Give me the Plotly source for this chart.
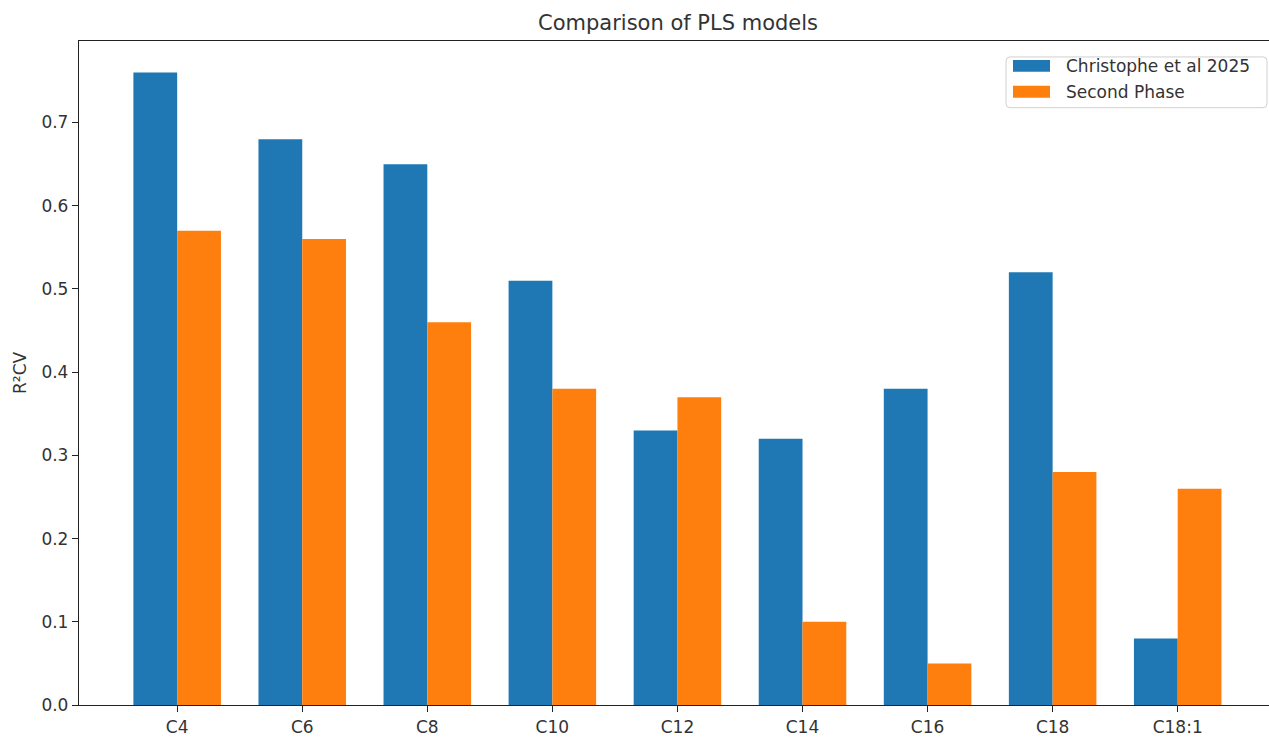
import plotly.graph_objects as go

# Fatty-acid targets and cross-validated R² for the two PLS model sets
categories = ["C4", "C6", "C8", "C10", "C12", "C14", "C16", "C18", "C18:1"]
christophe_2025 = [0.76, 0.68, 0.65, 0.51, 0.33, 0.32, 0.38, 0.52, 0.08]
second_phase = [0.57, 0.56, 0.46, 0.38, 0.37, 0.10, 0.05, 0.28, 0.26]
series_names = ["Christophe et al 2025", "Second Phase"]
y_ticks = [0.0, 0.1, 0.2, 0.3, 0.4, 0.5, 0.6, 0.7]

BLUE = "#1f77b4"
ORANGE = "#ff7f0e"
FONT = "DejaVu Sans"
TEXT = "#333333"

W, H = 1269, 737
ML, MR, MT, MB = 79, 0, 41, 29

fig = go.Figure()
fig.add_trace(go.Bar(x=categories, y=christophe_2025, name=series_names[0],
                     marker=dict(color=BLUE, line=dict(width=0))))
fig.add_trace(go.Bar(x=categories, y=second_phase, name=series_names[1],
                     marker=dict(color=ORANGE, line=dict(width=0))))

fig.update_layout(
    width=W, height=H,
    margin=dict(l=ML, r=MR, t=MT, b=MB, pad=0),
    paper_bgcolor="white", plot_bgcolor="white",
    barmode="group", bargap=0.3, bargroupgap=0,
    showlegend=False,
    font=dict(family=FONT, size=17, color=TEXT),
)

fig.update_xaxes(
    type="category", range=[-0.785, 8.73],
    showgrid=False, zeroline=False,
    showline=True, linecolor="#222222", linewidth=1.3, mirror=True,
    ticks="outside", ticklen=6, tickcolor="#222222", tickwidth=1.2,
    tickfont=dict(family=FONT, size=17, color=TEXT),
)
fig.update_yaxes(
    range=[0, 0.798], tickvals=y_ticks, ticktext=[f"{v:.1f}" for v in y_ticks],
    showgrid=False, zeroline=False,
    showline=True, linecolor="#222222", linewidth=1.3,
    ticks="outside", ticklen=6, tickcolor="#222222", tickwidth=1.2,
    tickfont=dict(family=FONT, size=17, color=TEXT),
)

# Title and y-axis label
fig.add_annotation(text="Comparison of PLS models", xref="paper", yref="paper",
                   x=0.5 * (1276 - ML) / (W - ML - MR), y=1, yshift=18,
                   xanchor="center", yanchor="middle", showarrow=False,
                   font=dict(family=FONT, size=21, color=TEXT))
fig.add_annotation(text="R²CV", xref="paper", yref="paper",
                   x=0, xshift=-59, y=0.5, textangle=-90,
                   xanchor="center", yanchor="middle", showarrow=False,
                   font=dict(family=FONT, size=17, color=TEXT))

# Legend box drawn in pixel-derived paper coordinates
pw, ph = W - ML - MR, H - MT - MB
def px(x):
    return (x - ML) / pw
def py(y):
    return 1 - (y - MT) / ph

x0, x1, y0, y1, r = 1006, 1267, 57, 108, 4
path = (f"M {px(x0 + r)} {py(y0)} L {px(x1 - r)} {py(y0)} "
        f"Q {px(x1)} {py(y0)} {px(x1)} {py(y0 + r)} L {px(x1)} {py(y1 - r)} "
        f"Q {px(x1)} {py(y1)} {px(x1 - r)} {py(y1)} L {px(x0 + r)} {py(y1)} "
        f"Q {px(x0)} {py(y1)} {px(x0)} {py(y1 - r)} L {px(x0)} {py(y0 + r)} "
        f"Q {px(x0)} {py(y0)} {px(x0 + r)} {py(y0)} Z")
fig.add_shape(type="path", path=path, xref="paper", yref="paper",
              line=dict(color="#d0d0d0", width=1), fillcolor="rgba(255,255,255,0.8)")

for name, color, cy in zip(series_names, [BLUE, ORANGE], [66, 92]):
    fig.add_shape(type="rect", xref="paper", yref="paper",
                  x0=px(1013), x1=px(1050), y0=py(cy - 6), y1=py(cy + 6),
                  line=dict(width=0), fillcolor=color)
    fig.add_annotation(text=name, xref="paper", yref="paper",
                       x=px(1064), y=py(cy), xanchor="left", yanchor="middle",
                       showarrow=False, font=dict(family=FONT, size=17, color=TEXT))

fig.write_html("out.html")
